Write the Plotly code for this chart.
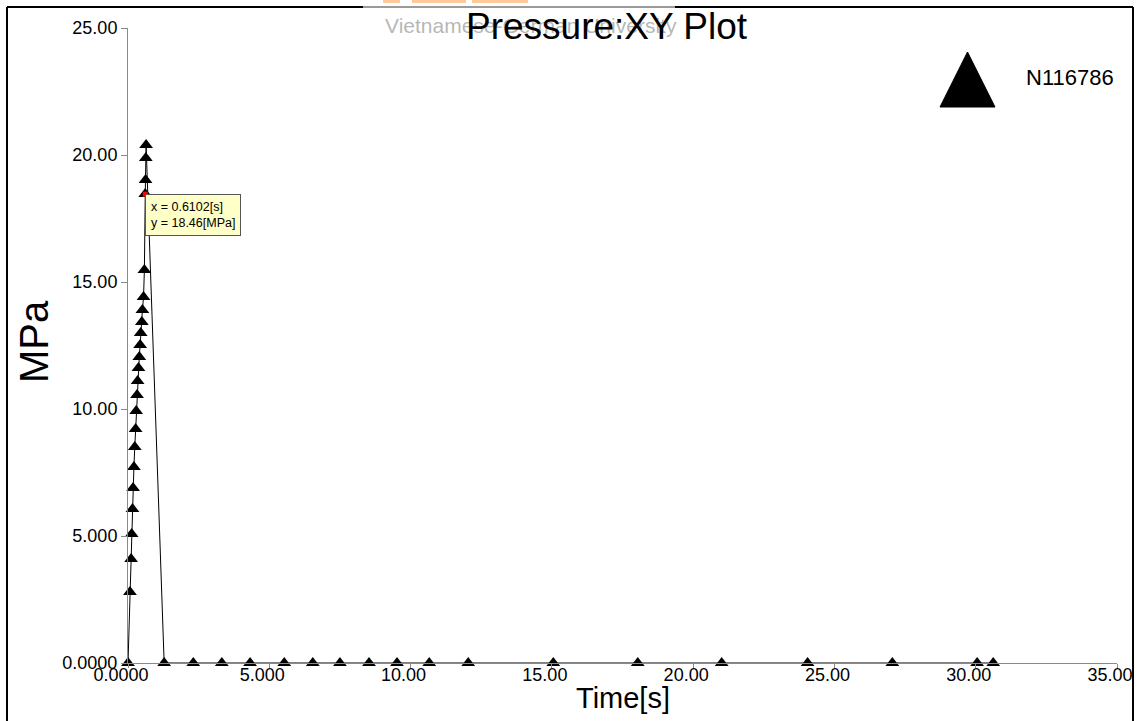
import plotly.graph_objects as go

# ---------------- data ----------------
series_name = "N116786"
time_s = [0.0, 0.07, 0.11, 0.13, 0.16, 0.18, 0.21, 0.24, 0.27, 0.29, 0.32, 0.34,
          0.37, 0.40, 0.43, 0.45, 0.49, 0.51, 0.55, 0.58, 0.6102, 0.62, 0.63, 0.64,
          1.28, 2.31, 3.32, 4.32, 5.53, 6.54, 7.50, 8.53, 9.52, 10.66, 12.04,
          15.05, 18.04, 21.01, 24.05, 27.05, 30.05, 30.62]
pressure_mpa = [0.0, 2.80, 4.09, 5.08, 6.06, 6.89, 7.72, 8.50, 9.21, 9.92, 10.55, 11.10,
                11.61, 12.05, 12.52, 12.99, 13.43, 13.90, 14.41, 15.47, 18.46, 19.02, 19.88, 20.39,
                0.0, 0.0, 0.0, 0.0, 0.0, 0.0, 0.0, 0.0, 0.0, 0.0, 0.0,
                0.0, 0.0, 0.0, 0.0, 0.0, 0.0, 0.0]
cursor_time = [0.6102]
cursor_pressure = [18.46]

x_tick_vals = [0, 5, 10, 15, 20, 25, 30, 35]
x_tick_text = ["0.0000", "5.000", "10.00", "15.00", "20.00", "25.00", "30.00", "35.00"]
y_tick_vals = [0, 5, 10, 15, 20, 25]
y_tick_text = ["0.0000", "5.000", "10.00", "15.00", "20.00", "25.00"]

title_text = "Pressure:XY Plot"
x_title = "Time[s]"
y_title = "MPa"
watermark = "Vietnamese-German University"

# ---------------- layout geometry (pixels) ----------------
W, H = 1144, 721
L, R, T, B = 128, 1117, 28, 663


def px(xp):
    return (xp - L) / (R - L)


def py(yp):
    return (B - yp) / (B - T)


FONT = "Arial, Liberation Sans, sans-serif"
GRAY = "#8a8a8a"

fig = go.Figure()
fig.add_trace(go.Scatter(
    x=time_s, y=pressure_mpa, name=series_name, mode="lines+markers",
    line=dict(color="black", width=1),
    marker=dict(symbol="triangle-up", size=12, color="black"),
    cliponaxis=False, showlegend=False,
))
fig.add_trace(go.Scatter(
    x=cursor_time, y=cursor_pressure, mode="markers",
    marker=dict(symbol="square", size=5, color="red"),
    cliponaxis=False, showlegend=False, hoverinfo="skip",
))

axis_common = dict(
    showgrid=False, zeroline=False, showline=True, linecolor=GRAY, linewidth=1,
    ticks="outside", tickcolor=GRAY, tickwidth=1,
    tickfont=dict(family=FONT, size=18, color="black"),
)
fig.update_xaxes(range=[0, 35], tickvals=x_tick_vals, ticktext=x_tick_text,
                 ticklen=4, ticklabelshift=-7, ticklabelstandoff=-9, **axis_common)
fig.update_yaxes(range=[0, 25], tickvals=y_tick_vals, ticktext=y_tick_text,
                 ticklen=6, **axis_common)

shapes = []
# outer frame
shapes.append(dict(type="line", xref="paper", yref="paper", x0=px(7), x1=px(7), y0=py(7), y1=py(730),
                   line=dict(color="black", width=2)))
shapes.append(dict(type="line", xref="paper", yref="paper", x0=px(1133), x1=px(1133), y0=py(7), y1=py(730),
                   line=dict(color="black", width=2)))
shapes.append(dict(type="line", xref="paper", yref="paper", x0=px(7), x1=px(1133), y0=py(7), y1=py(7),
                   line=dict(color="black", width=2)))
shapes.append(dict(type="line", xref="paper", yref="paper", x0=px(363), x1=px(675), y0=py(7), y1=py(7),
                   line=dict(color="#9a9a9a", width=2)))
# watermark logo fragments
for a, b in [(383, 400), (412, 466), (472, 528)]:
    shapes.append(dict(type="rect", xref="paper", yref="paper", x0=px(a), x1=px(b), y0=py(0), y1=py(3),
                       fillcolor="#FFC99C", line=dict(width=0)))
# legend symbol
shapes.append(dict(type="path", xref="paper", yref="paper",
                   path=f"M {px(940)},{py(107)} L {px(995)},{py(107)} L {px(967.5)},{py(52)} Z",
                   fillcolor="black", line=dict(color="black", width=1)))
fig.update_layout(shapes=shapes)

annotations = [
    dict(text=watermark, xref="paper", yref="paper", x=px(531), y=py(25), xanchor="center", yanchor="middle",
         showarrow=False, font=dict(family=FONT, size=21, color="rgba(150,150,150,0.7)")),
    dict(text=title_text, xref="paper", yref="paper", x=px(607), y=py(27), xanchor="center", yanchor="middle",
         showarrow=False, font=dict(family=FONT, size=37, color="black")),
    dict(text=series_name, xref="paper", yref="paper", x=px(1024), y=py(77), xanchor="left", yanchor="middle",
         showarrow=False, font=dict(family=FONT, size=22, color="black")),
    dict(text=x_title, xref="paper", yref="paper", x=0.5, y=py(698), xanchor="center", yanchor="middle",
         showarrow=False, font=dict(family=FONT, size=29, color="black")),
    dict(text=y_title, xref="paper", yref="paper", x=px(34), y=py(342), xanchor="center", yanchor="middle",
         textangle=-90, showarrow=False, font=dict(family=FONT, size=40, color="black")),
    dict(text=f"x = {cursor_time[0]:.4f}[s]<br>y = {cursor_pressure[0]:.2f}[MPa]",
         x=cursor_time[0], y=cursor_pressure[0], xref="x", yref="y",
         xanchor="left", yanchor="top", showarrow=False, align="left",
         bgcolor="#FFFFC8", bordercolor="#555555", borderwidth=1, borderpad=5,
         font=dict(family=FONT, size=12.5, color="black")),
]
fig.update_layout(annotations=annotations)

fig.update_layout(
    width=W, height=H, autosize=False,
    margin=dict(l=L, r=W - R, t=T, b=H - B, pad=0),
    paper_bgcolor="white", plot_bgcolor="white",
    font=dict(family=FONT), showlegend=False,
)

fig.write_html("out.html")
